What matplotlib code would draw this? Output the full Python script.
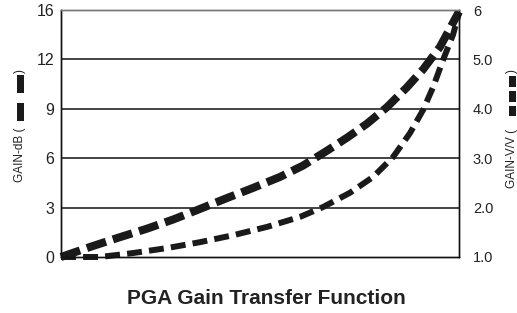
import matplotlib
matplotlib.use("Agg")
import matplotlib.pyplot as plt
from matplotlib.patches import Rectangle

# gain curves (x is the normalised gain setting)
db_x = [0.0, 0.073, 0.141, 0.216, 0.281, 0.342, 0.417, 0.482, 0.55, 0.608,
        0.668, 0.719, 0.769, 0.819, 0.869, 0.91, 0.952, 1.0]
db_gain = [0.0, 0.61, 1.15, 1.72, 2.27, 2.85, 3.58, 4.19, 4.86, 5.55,
           6.45, 7.25, 8.1, 9.1, 10.3, 11.4, 12.75, 14.9]

vv_x = [0.0, 0.098, 0.181, 0.266, 0.349, 0.432, 0.518, 0.60, 0.658, 0.726,
        0.784, 0.834, 0.877, 0.91, 0.935, 0.96, 0.985, 1.0]
vv_gain = [1.0, 1.0, 1.08, 1.18, 1.30, 1.44, 1.61, 1.81, 2.01, 2.30,
           2.62, 3.02, 3.51, 3.98, 4.44, 4.99, 5.50, 5.94]

db_ticks = [0, 3, 6, 9, 12, 15]
db_labels = ["0", "3", "6", "9", "12", "16"]
vv_ticks = [1, 2, 3, 4, 5, 6]
vv_labels = ["1.0", "2.0", "3.0", "4.0", "5.0", "6"]

plt.rcParams["font.family"] = ["Liberation Sans", "DejaVu Sans"]
txt = "#222222"
ink = "#1a1a1a"
W, H = 517, 313

fig = plt.figure(figsize=(5.17, 3.13), dpi=100)
ax = fig.add_axes([61 / W, 1 - 257 / H, 398 / W, 247 / H])
ax2 = ax.twinx()

ax.set_xlim(0, 1)
ax.set_ylim(0, 15)
ax2.set_ylim(1, 6)
ax.set_xticks([])

ax.set_yticks(db_ticks)
ax.set_yticklabels(db_labels)
ax2.set_yticks(vv_ticks)
ax2.set_yticklabels(vv_labels)
ax.tick_params(axis="y", length=0, pad=5, labelsize=11.5, labelcolor=txt)
ax2.tick_params(axis="y", length=0, pad=10, labelsize=10.5, labelcolor=txt)
for a in (ax, ax2):
    for s in a.spines.values():
        s.set_color("#111111")
        s.set_linewidth(1.0)
ax.spines["top"].set_color("#777777")
ax2.spines["top"].set_color("#777777")

for t in db_ticks[1:-1]:
    ax.axhline(t, color="#111111", lw=1.1, zorder=1)

# thin dashed V/V curve and thick dashed dB curve
ax2.plot(vv_x, vv_gain, color=ink, lw=4.3, dashes=(2.5, 1.2),
         dash_capstyle="butt", clip_on=False)
ax.plot(db_x, db_gain, color=ink, lw=5.8, dashes=(2.5, 0.9),
        dash_capstyle="butt", clip_on=False, zorder=3)


def pix(x, y):
    return x / W, 1 - y / H


def dash_box(x0, x1, y0, y1):
    fig.add_artist(Rectangle((x0 / W, 1 - y1 / H), (x1 - x0) / W, (y1 - y0) / H,
                             transform=fig.transFigure, color=ink, lw=0))


# left axis title with its legend marks
fig.text(*pix(20, 182), "GAIN-dB (", rotation=90, fontsize=8.5, color=txt,
         ha="center", va="bottom")
dash_box(16.5, 23.5, 103, 121)
dash_box(16.5, 23.5, 75, 93)
fig.text(*pix(20, 69), ")", rotation=90, fontsize=8.5, color=txt,
         ha="center", va="top")

# right axis title with its legend marks
fig.text(*pix(512, 188), "GAIN-V/V (", rotation=90, fontsize=8.5, color=txt,
         ha="center", va="bottom")
dash_box(508.5, 515.5, 106, 116)
dash_box(508.5, 515.5, 91, 102)
dash_box(508.5, 515.5, 76, 87)
fig.text(*pix(512, 69), ")", rotation=90, fontsize=8.5, color=txt,
         ha="center", va="top")

fig.text(*pix(266, 299), "PGA Gain Transfer Function", fontsize=15,
         fontweight="bold", color=txt, ha="center", va="center")

fig.savefig("out.png", dpi=100)
